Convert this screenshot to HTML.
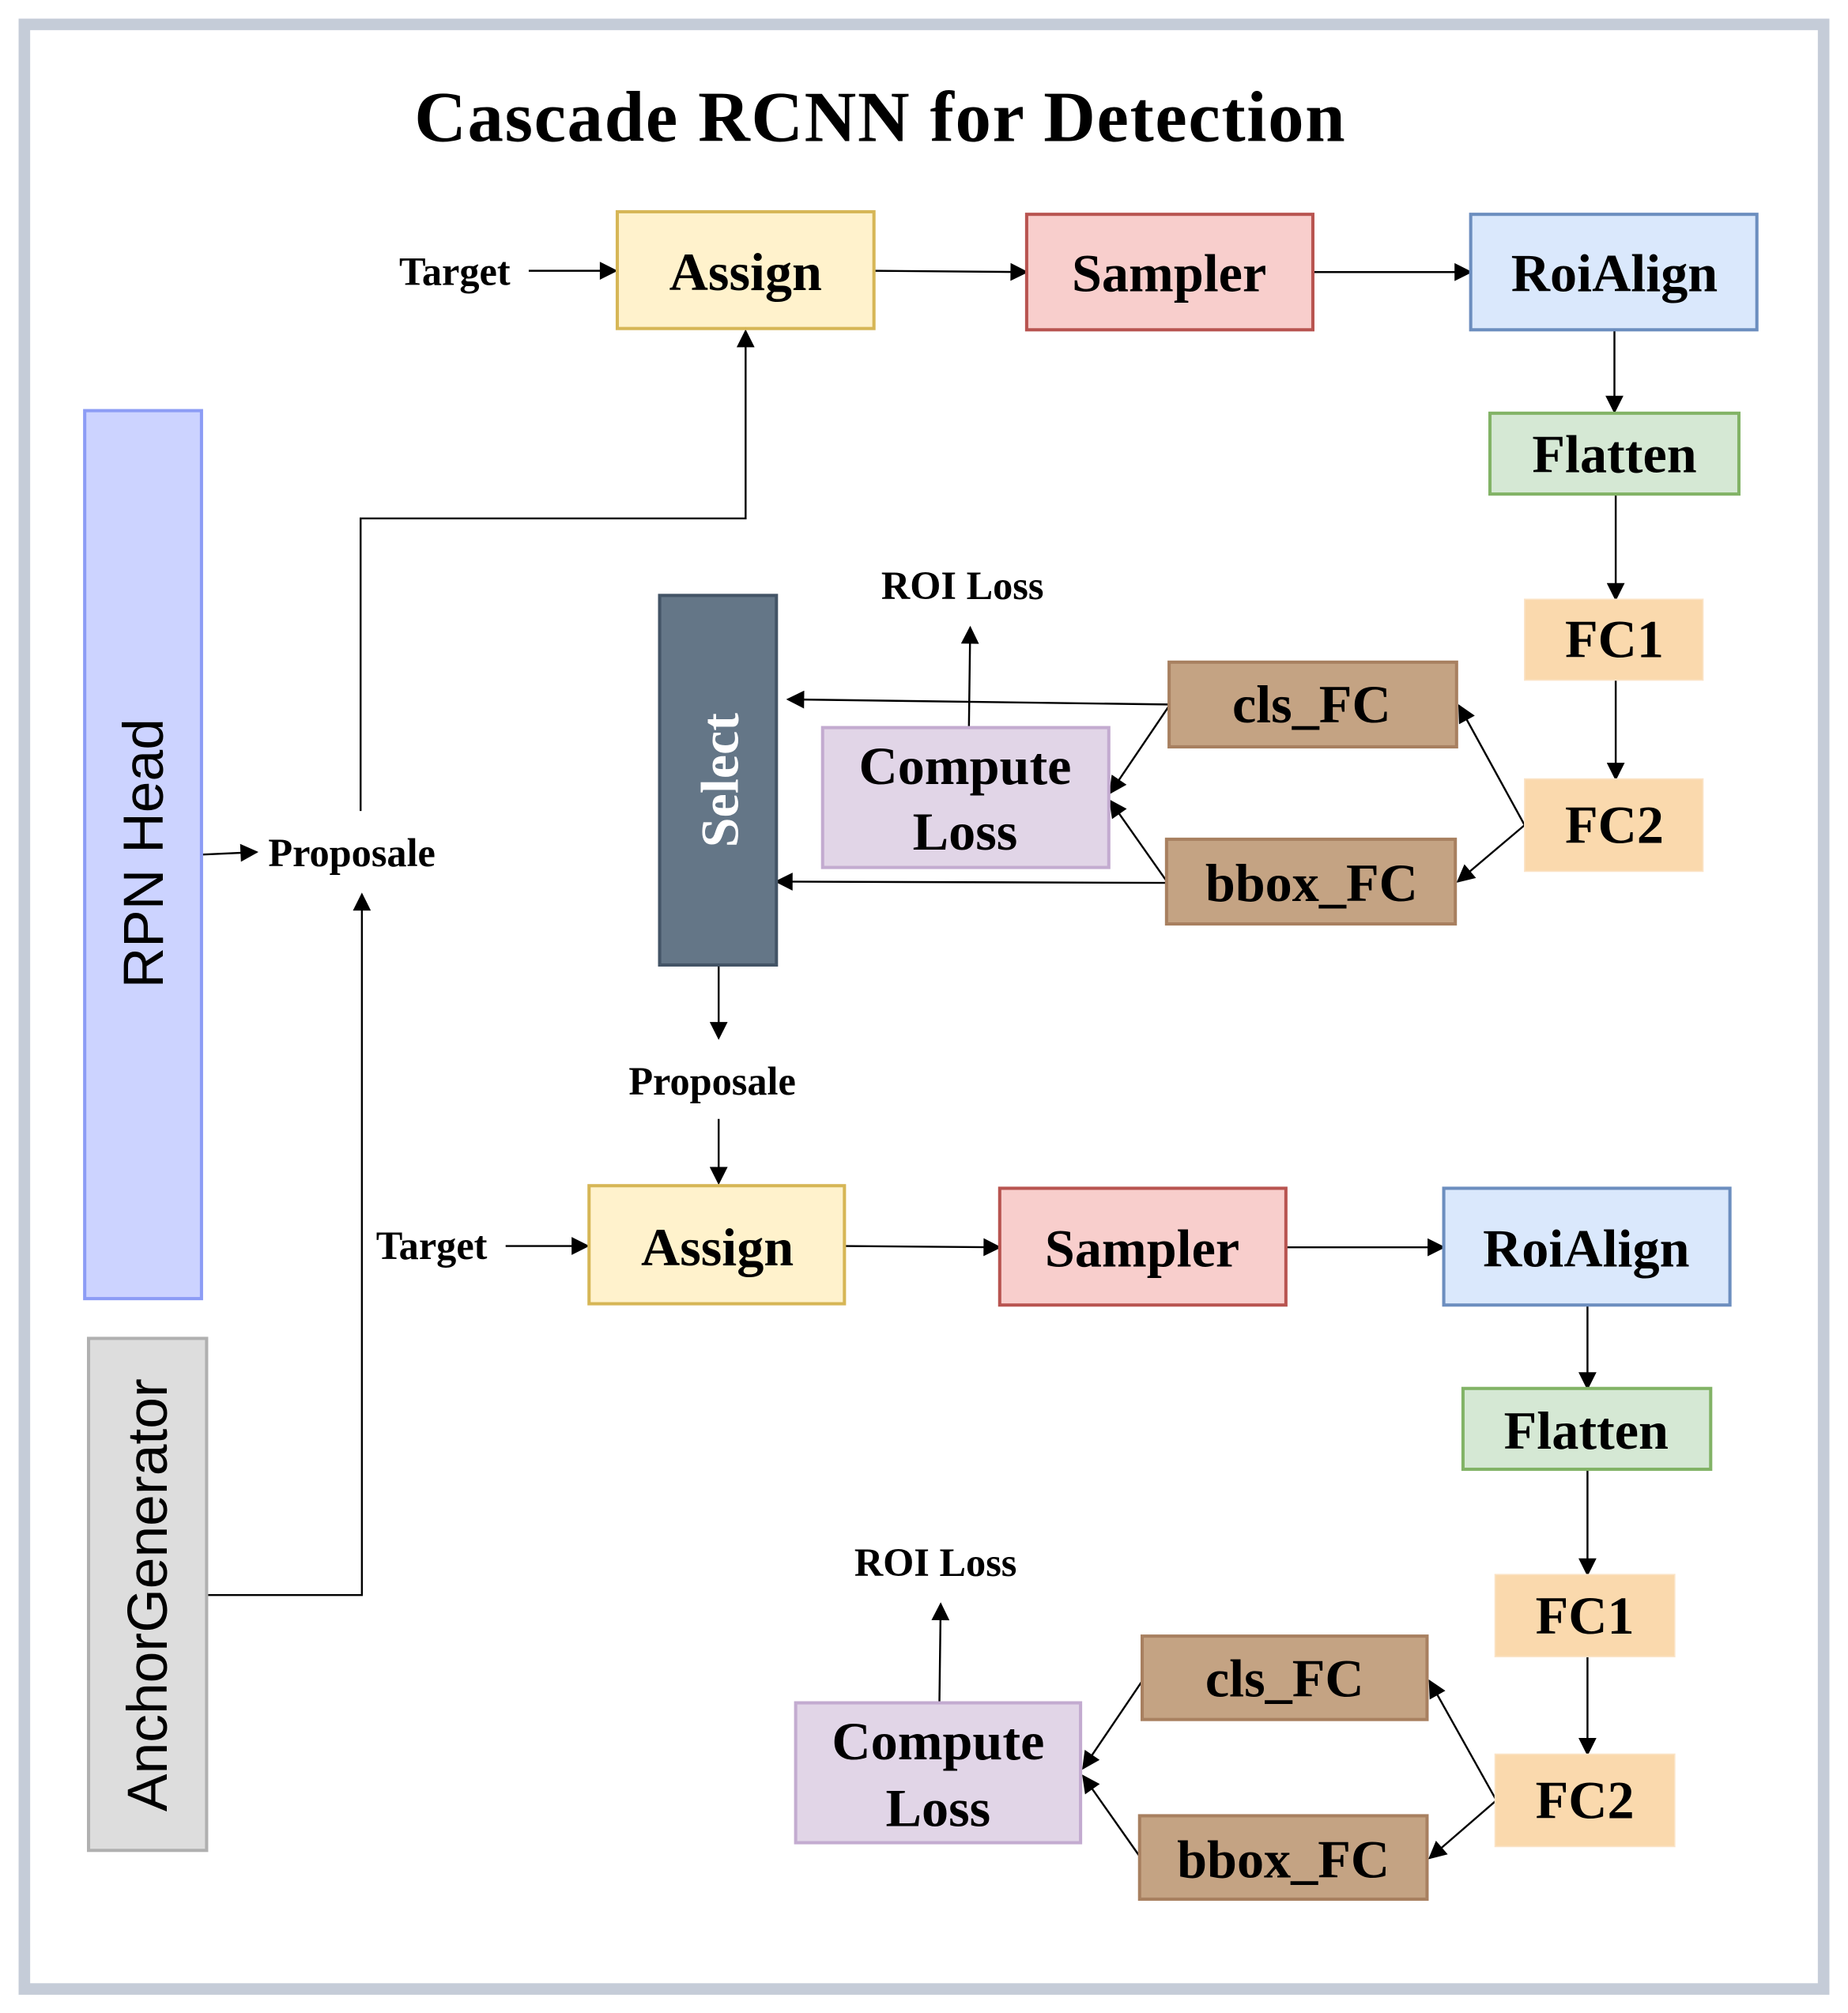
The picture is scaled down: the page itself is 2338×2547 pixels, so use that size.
<!DOCTYPE html>
<html><head><meta charset="utf-8"><style>
html,body{margin:0;padding:0;background:#fff;}
svg{display:block;}
text{font-family:"Liberation Serif",serif;font-weight:bold;}
</style></head><body>
<svg width="2338" height="2547" viewBox="0 0 1440 1568.7" xmlns="http://www.w3.org/2000/svg">
<defs>
<marker id="b" viewBox="0 0 10 10" refX="9" refY="5" markerWidth="16" markerHeight="14" markerUnits="userSpaceOnUse" orient="auto"><path d="M0,0 L10,5 L0,10 z" fill="#000"/></marker>
</defs>
<rect x="0" y="0" width="1440" height="1569" fill="#fff"/>
<rect x="19" y="19" width="1402" height="1531" fill="#fff" stroke="#c5ccd8" stroke-width="9"/>
<text x="686" y="110" font-size="56" text-anchor="middle" letter-spacing="1">Cascade RCNN for Detection</text>

<g fill="none" stroke="#000" stroke-width="1.5">
<line x1="412" y1="211" x2="480" y2="211" marker-end="url(#b)"/>
<line x1="681" y1="211" x2="800" y2="212" marker-end="url(#b)"/>
<line x1="1023" y1="212" x2="1146" y2="212" marker-end="url(#b)"/>
<line x1="1258" y1="257" x2="1258" y2="321" marker-end="url(#b)"/>
<line x1="1259" y1="385" x2="1259" y2="467" marker-end="url(#b)"/>
<line x1="1259" y1="530" x2="1259" y2="607" marker-end="url(#b)"/>
<line x1="1188" y1="643" x2="1137" y2="550" marker-end="url(#b)"/>
<line x1="1188" y1="643" x2="1136" y2="687" marker-end="url(#b)"/>
<line x1="911" y1="550" x2="865" y2="618" marker-end="url(#b)"/>
<line x1="910" y1="688" x2="865" y2="624" marker-end="url(#b)"/>
<line x1="911" y1="549" x2="614" y2="545" marker-end="url(#b)"/>
<line x1="909" y1="688" x2="605" y2="687" marker-end="url(#b)"/>
<line x1="755" y1="567" x2="756" y2="489" marker-end="url(#b)"/>
<line x1="560" y1="752" x2="560" y2="809" marker-end="url(#b)"/>
<line x1="560" y1="872" x2="560" y2="922" marker-end="url(#b)"/>
<line x1="157" y1="666" x2="200" y2="664" marker-end="url(#b)"/>
<polyline points="281,632 281,404 581,404 581,258" marker-end="url(#b)"/>
<polyline points="161,1243 282,1243 282,697" marker-end="url(#b)"/>
<line x1="394" y1="971" x2="458" y2="971" marker-end="url(#b)"/>
<line x1="658" y1="971" x2="779" y2="972" marker-end="url(#b)"/>
<line x1="1002" y1="972" x2="1125" y2="972" marker-end="url(#b)"/>
<line x1="1237" y1="1017" x2="1237" y2="1082" marker-end="url(#b)"/>
<line x1="1237" y1="1145" x2="1237" y2="1227" marker-end="url(#b)"/>
<line x1="1237" y1="1291" x2="1237" y2="1367" marker-end="url(#b)"/>
<line x1="1166" y1="1403" x2="1114" y2="1310" marker-end="url(#b)"/>
<line x1="1166" y1="1403" x2="1114" y2="1448" marker-end="url(#b)"/>
<line x1="890" y1="1310" x2="844" y2="1378" marker-end="url(#b)"/>
<line x1="889" y1="1448" x2="844" y2="1384" marker-end="url(#b)"/>
<line x1="732" y1="1327" x2="733" y2="1250" marker-end="url(#b)"/>
</g>

<g stroke-width="2.5">
<rect x="481" y="165" width="200" height="91" fill="#fff2cc" stroke="#d6b656"/>
<rect x="800" y="167" width="223" height="90" fill="#f8cecc" stroke="#b85450"/>
<rect x="1146" y="167" width="223" height="90" fill="#dae8fc" stroke="#6c8ebf"/>
<rect x="1161" y="322" width="194" height="63" fill="#d5e8d4" stroke="#82b366"/>
<rect x="1188" y="467" width="139" height="63" fill="#fad9ad" stroke="#fbe3c6" stroke-width="1"/>
<rect x="1188" y="607" width="139" height="72" fill="#fad9ad" stroke="#fbe3c6" stroke-width="1"/>
<rect x="911" y="516" width="224" height="66" fill="#c4a383" stroke="#a88060"/>
<rect x="909" y="654" width="225" height="66" fill="#c4a383" stroke="#a88060"/>
<rect x="641" y="567" width="223" height="109" fill="#e1d5e7" stroke="#c3abd0"/>
<rect x="514" y="464" width="91" height="288" fill="#647687" stroke="#435466"/>
<rect x="66" y="320" width="91" height="692" fill="#ccd3ff" stroke="#8c9cf5"/>
<rect x="69" y="1043" width="92" height="399" fill="#dddddd" stroke="#b0b0b0"/>

<rect x="459" y="924" width="199" height="92" fill="#fff2cc" stroke="#d6b656"/>
<rect x="779" y="926" width="223" height="91" fill="#f8cecc" stroke="#b85450"/>
<rect x="1125" y="926" width="223" height="91" fill="#dae8fc" stroke="#6c8ebf"/>
<rect x="1140" y="1082" width="193" height="63" fill="#d5e8d4" stroke="#82b366"/>
<rect x="1165" y="1227" width="140" height="64" fill="#fad9ad" stroke="#fbe3c6" stroke-width="1"/>
<rect x="1165" y="1367" width="140" height="72" fill="#fad9ad" stroke="#fbe3c6" stroke-width="1"/>
<rect x="890" y="1275" width="222" height="65" fill="#c4a383" stroke="#a88060"/>
<rect x="888" y="1415" width="224" height="65" fill="#c4a383" stroke="#a88060"/>
<rect x="620" y="1327" width="222" height="109" fill="#e1d5e7" stroke="#c3abd0"/>
</g>

<g font-size="42" text-anchor="middle">
<text x="581" y="226">Assign</text>
<text x="911" y="227">Sampler</text>
<text x="1258" y="227">RoiAlign</text>
<text x="1258" y="368">Flatten</text>
<text x="1258" y="512">FC1</text>
<text x="1258" y="657">FC2</text>
<text x="1022" y="563">cls_FC</text>
<text x="1022" y="702">bbox_FC</text>
<text x="752" y="611">Compute</text>
<text x="752" y="662">Loss</text>
<text x="559" y="986">Assign</text>
<text x="890" y="987">Sampler</text>
<text x="1236" y="987">RoiAlign</text>
<text x="1236" y="1129">Flatten</text>
<text x="1235" y="1273">FC1</text>
<text x="1235" y="1417">FC2</text>
<text x="1001" y="1322">cls_FC</text>
<text x="1000" y="1463">bbox_FC</text>
<text x="731" y="1371">Compute</text>
<text x="731" y="1423">Loss</text>
<text transform="translate(575,608) rotate(-90)" fill="#fff" font-size="42">Select</text>
</g>
<g font-size="31">
<text x="311" y="222">Target</text>
<text x="293" y="981">Target</text>
<text x="209" y="675">Proposale</text>
<text x="555" y="853" text-anchor="middle">Proposale</text>
<text x="750" y="467" text-anchor="middle">ROI Loss</text>
<text x="729" y="1228" text-anchor="middle">ROI Loss</text>
</g>
<g font-size="44" text-anchor="middle">
<text transform="translate(127,665) rotate(-90)" style="font-family:'Liberation Sans',sans-serif;font-weight:normal">RPN Head</text>
<text transform="translate(130,1243) rotate(-90)" style="font-family:'Liberation Sans',sans-serif;font-weight:normal">AnchorGenerator</text>
</g>
</svg>
</body></html>
